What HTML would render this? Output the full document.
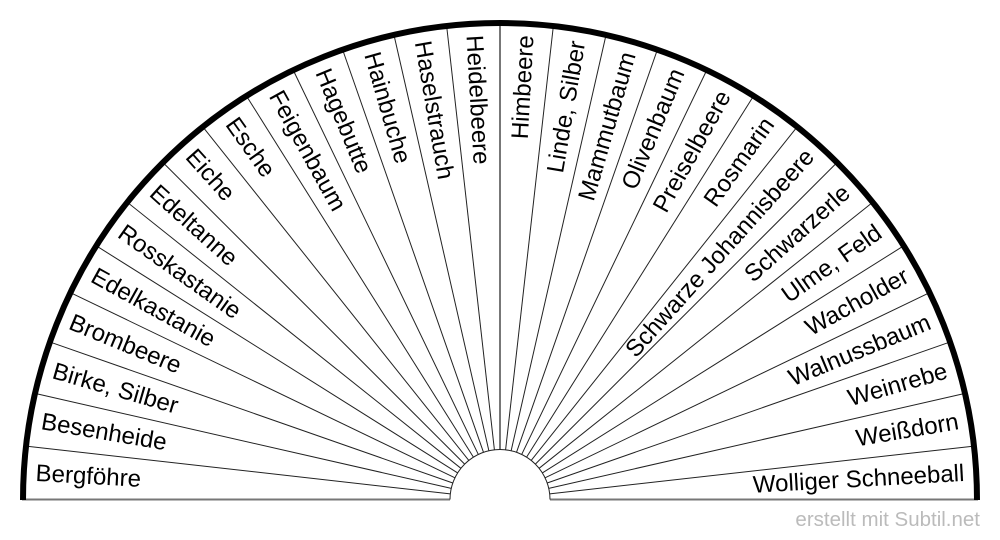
<!DOCTYPE html>
<html><head><meta charset="utf-8"><style>
html,body{margin:0;padding:0;background:#fff;}
svg{display:block;}
text{font-family:"Liberation Sans",Arial,sans-serif;}
</style></head><body>
<svg id="s" width="1000" height="540" viewBox="0 0 1000 540" xmlns="http://www.w3.org/2000/svg">
<g id="lines"></g>
<line x1="22" y1="499.5" x2="450" y2="499.5" stroke="#777" stroke-width="2"/>
<line x1="550" y1="499.5" x2="978" y2="499.5" stroke="#777" stroke-width="2"/>
<path d="M450 499.5 A50 50 0 0 1 550 499.5" fill="none" stroke="#222" stroke-width="1"/>
<path d="M23 500 A477 477 0 0 1 977 500" fill="none" stroke="#000" stroke-width="6"/>
<g id="labels" font-size="24" fill="#000"></g>
<text x="980" y="526" font-size="20.5" fill="#bbb" text-anchor="end">erstellt mit Subtil.net</text>
</svg>
<script>
var L=["Bergföhre","Besenheide","Birke, Silber","Brombeere","Edelkastanie","Rosskastanie","Edeltanne","Eiche","Esche","Feigenbaum","Hagebutte","Hainbuche","Haselstrauch","Heidelbeere"];
var R=["Wolliger Schneeball","Weißdorn","Weinrebe","Walnussbaum","Wacholder","Ulme, Feld","Schwarzerle","Schwarze Johannisbeere","Rosmarin","Preiselbeere","Olivenbaum","Mammutbaum","Linde, Silber","Himbeere"];
var cx=500,cy=499.5,step=180/28,ns="http://www.w3.org/2000/svg";
var lg=document.getElementById("lines"),tg=document.getElementById("labels");
for(var i=1;i<28;i++){var a=i*step*Math.PI/180,c=Math.cos(a),s=Math.sin(a);
var l=document.createElementNS(ns,"line");
l.setAttribute("x1",cx-50*c);l.setAttribute("y1",cy-50*s);l.setAttribute("x2",cx-477*c);l.setAttribute("y2",cy-477*s);
l.setAttribute("stroke",i==14?"#777":"#222");l.setAttribute("stroke-width",i==14?"2":"1");lg.appendChild(l);}
var Rr=465;
for(var i=0;i<14;i++){var d=(i+0.5)*step,a=d*Math.PI/180,c=Math.cos(a),s=Math.sin(a);
var t=document.createElementNS(ns,"text");var x=cx-Rr*c,y=cy-Rr*s;
t.setAttribute("x",x);t.setAttribute("y",y);t.setAttribute("dominant-baseline","central");
t.setAttribute("transform","rotate("+d+" "+x+" "+y+")");t.textContent=L[i];tg.appendChild(t);
var t2=document.createElementNS(ns,"text");var x2=cx+Rr*c;
t2.setAttribute("x",x2);t2.setAttribute("y",y);t2.setAttribute("dominant-baseline","central");t2.setAttribute("text-anchor","end");
t2.setAttribute("transform","rotate("+(-d)+" "+x2+" "+y+")");t2.textContent=R[i];tg.appendChild(t2);}
</script>
</body></html>
